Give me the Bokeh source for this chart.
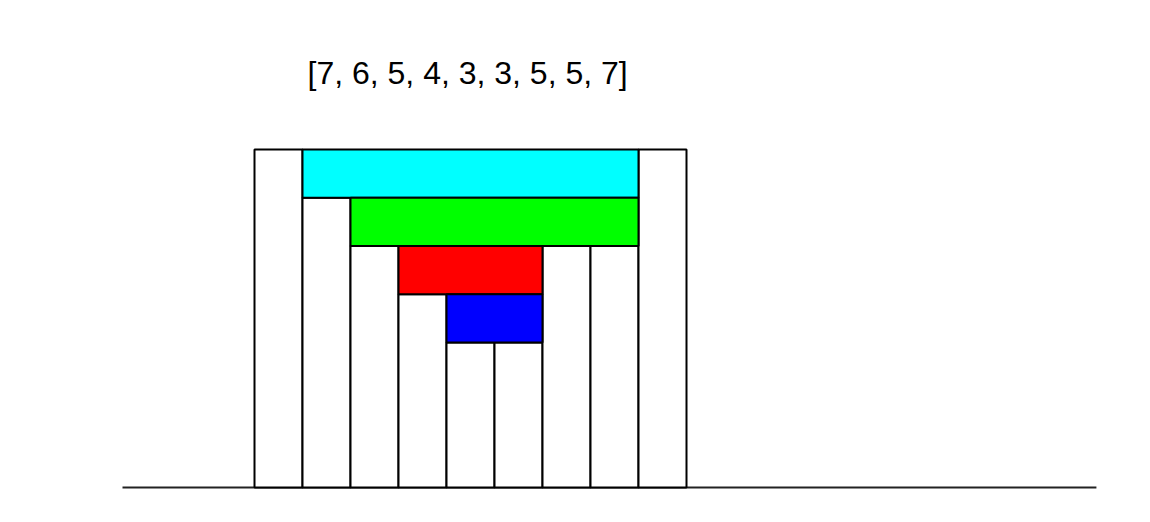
from bokeh.plotting import figure
from bokeh.models import ColumnDataSource, Range1d
from bokeh.core.properties import value
from bokeh.embed import file_html
from bokeh.resources import INLINE

# ---- data ----
heights = [7, 6, 5, 4, 3, 3, 5, 5, 7]
layer_colors = ["#00ffff", "#00ff00", "#ff0000", "#0000ff"]  # top layer first
title_text = str(heights)

# ---- derived water layers (one rectangle per level) ----
def water_layers(h):
    rects = []
    top = max(h)
    n = len(h)
    lvl = top
    while lvl > 0:
        idx = [i for i in range(n) if h[i] < lvl]
        inner = [i for i in idx if max(h[:i] or [0]) >= lvl and max(h[i + 1:] or [0]) >= lvl]
        if not inner:
            break
        run = [inner[0]]
        for i in inner[1:]:
            if i == run[-1] + 1:
                run.append(i)
            else:
                rects.append((run[0], run[-1] + 1, lvl - 1, lvl))
                run = [i]
        rects.append((run[0], run[-1] + 1, lvl - 1, lvl))
        lvl -= 1
    return rects

layers = water_layers(heights)

W, H = 1134, 506
unit_x = 48.0
unit_y = 48.3
x0_px, y0_px = 254, 487

p = figure(width=W, height=H, output_backend="svg", toolbar_location=None,
           min_border=0, outline_line_color=None,
           x_range=Range1d(-x0_px / unit_x, (W - x0_px) / unit_x),
           y_range=Range1d(-(H - y0_px) / unit_y, y0_px / unit_y))
p.axis.visible = False
p.grid.visible = False
p.background_fill_color = "white"
p.border_fill_color = "white"

# baseline
p.line(x=[-2.75, 17.54], y=[0, 0], line_color="#222222", line_width=2)

# bars
bars = ColumnDataSource(dict(
    left=list(range(len(heights))),
    right=[i + 1 for i in range(len(heights))],
    top=heights,
    bottom=[0] * len(heights),
))
p.quad(left="left", right="right", top="top", bottom="bottom", source=bars,
       fill_color="white", line_color="black", line_width=2)

# water layers
wl = ColumnDataSource(dict(
    left=[r[0] for r in layers],
    right=[r[1] for r in layers],
    bottom=[r[2] for r in layers],
    top=[r[3] for r in layers],
    color=[layer_colors[k % len(layer_colors)] for k in range(len(layers))],
))
p.quad(left="left", right="right", top="top", bottom="bottom", source=wl,
       fill_color="color", line_color="black", line_width=2)

# title text
p.text(x=[(307 - x0_px) / unit_x], y=[(y0_px - 72) / unit_y], text=[title_text],
       text_font=value("Liberation Sans"),
       text_font_size="32px", text_color="black", text_align="left",
       text_baseline="middle")

open("out.html", "w").write(file_html(p, INLINE))
